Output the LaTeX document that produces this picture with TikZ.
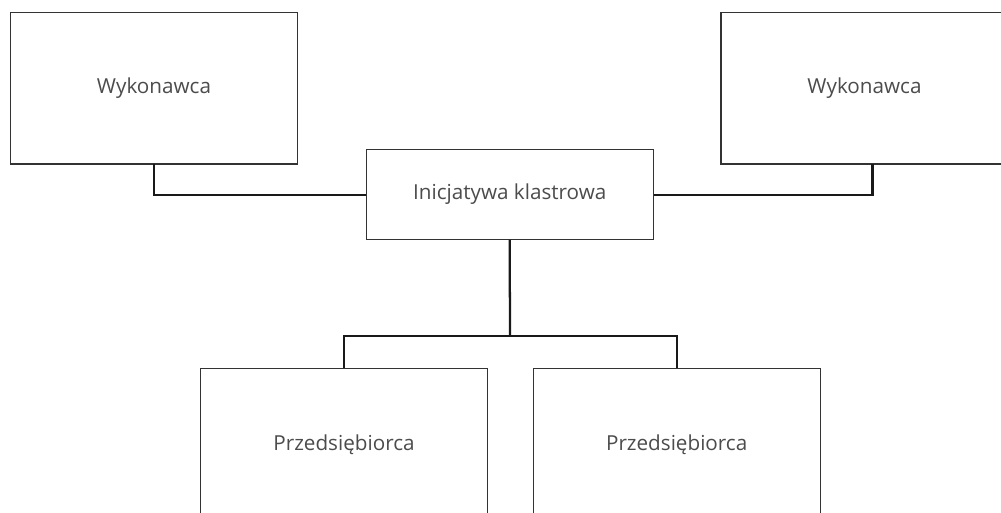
\documentclass[tikz,border=0pt]{standalone}
\usepackage{fontspec}
\setmainfont{Open Sans}
\usepackage{tikz}
\begin{document}
\begin{tikzpicture}[x=0.75pt, y=-0.75pt,
    box/.style={draw=black!80, line width=1pt, fill=white, inner sep=0pt,
                minimum width=215.25pt, text=black!70,
                font=\fontsize{15.5}{18}\selectfont},
    tall/.style={box, minimum height=113.5pt},
    flat/.style={box, minimum height=67.5pt},
    link/.style={draw=black!90, line width=1.7pt}]
  \useasboundingbox (0, 0) rectangle (1001, 513);
  \clip (0, 0) rectangle (1001, 513);
  \node [tall] (wl) at (154, 88.3) {Wykonawca};
  \node [tall] (wr) at (864.5, 88.3) {Wykonawca};
  \node [flat] (ik) at (509.7, 194.3) {Inicjatywa klastrowa};
  \node [tall] (pl) at (344, 444.3) {Przedsiębiorca};
  \node [tall] (pr) at (676.7, 444.3) {Przedsiębiorca};
  \coordinate (bus) at (510, 335.7);
  \draw [link] ([yshift=0.75pt] wl.south) |- ([yshift=-0.75pt] ik.west);
  \draw [link] ([xshift=6pt, yshift=0.75pt] wr.south) |- ([yshift=-0.75pt] ik.east);
  \draw [link] (ik.south) -- (bus);
  \draw [link] (pl.north) |- (bus) -| (pr.north);
\end{tikzpicture}
\end{document}
